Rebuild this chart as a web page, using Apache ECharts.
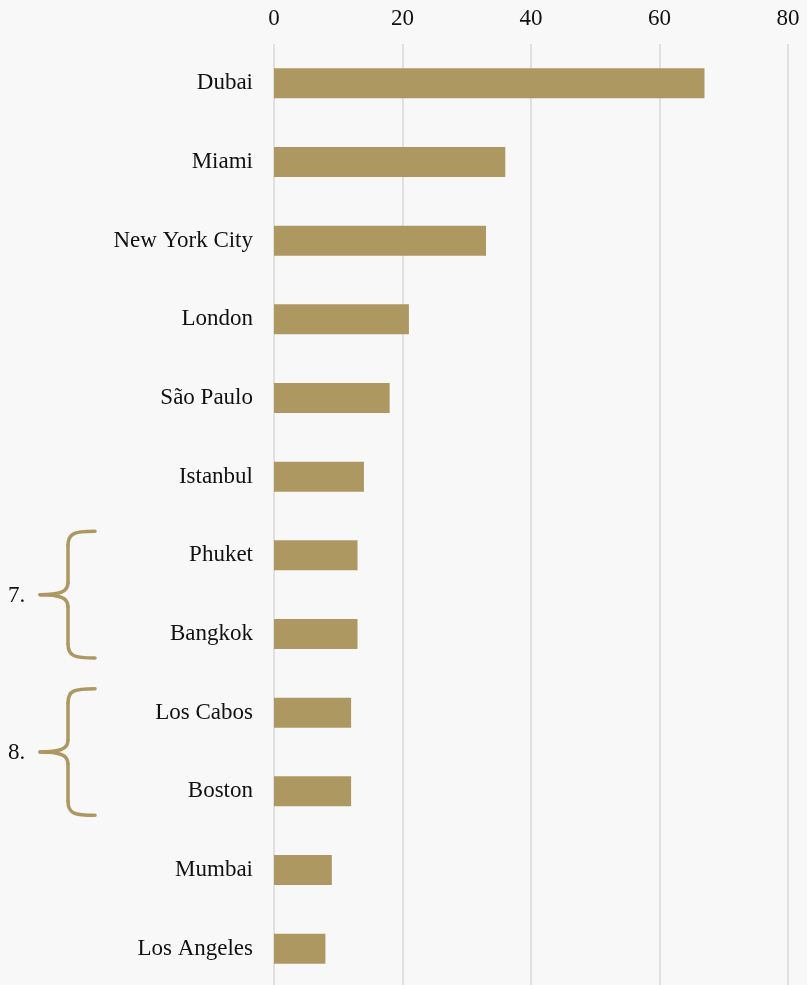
<!DOCTYPE html>
<html>
<head>
<meta charset="utf-8">
<script src="https://cdn.jsdelivr.net/npm/echarts@6/dist/echarts.min.js"></script>
<style>
  html, body { margin: 0; padding: 0; background: #f8f8f8; }
  #chart { width: 807px; height: 985px; }
</style>
</head>
<body>
<div id="chart"></div>
<script>
// Cities ranked by count, top to bottom
const cities = ['Dubai', 'Miami', 'New York City', 'London', 'São Paulo', 'Istanbul',
                'Phuket', 'Bangkok', 'Los Cabos', 'Boston', 'Mumbai', 'Los Angeles'];
const counts = [67, 36, 33, 21, 18, 14, 13, 13, 12, 12, 9, 8];
const xTicks = [0, 20, 40, 60, 80];
// Tied ranks marked with a brace on the left
const tieRanks = ['7.', '8.'];
const tieFirst = ['Phuket', 'Los Cabos'];
const tieLast = ['Bangkok', 'Boston'];

const GOLD = '#ae9862';
const FONT = '"Liberation Serif", "DejaVu Serif", serif';

const chart = echarts.init(document.getElementById('chart'), null, { renderer: 'canvas' });

chart.setOption({
  backgroundColor: '#f8f8f8',
  animation: false,
  grid: { left: 274, right: 19, top: 44, height: 944, containLabel: false, outerBoundsMode: 'none' },
  xAxis: {
    type: 'value',
    position: 'top',
    min: xTicks[0],
    max: xTicks[xTicks.length - 1],
    interval: xTicks[1] - xTicks[0],
    axisLine: { show: false },
    axisTick: { show: false },
    axisLabel: { margin: 14, fontFamily: FONT, fontSize: 23, color: '#111' },
    splitLine: { show: true, lineStyle: { color: '#d9d9d9', width: 1.5 } }
  },
  yAxis: {
    type: 'category',
    inverse: true,
    data: cities,
    axisLine: { show: false },
    axisTick: { show: false },
    axisLabel: { margin: 21, fontFamily: FONT, fontSize: 23, color: '#111', padding: [4, 0, 0, 0] }
  },
  series: [{
    type: 'bar',
    data: counts,
    barWidth: 30,
    itemStyle: { color: GOLD }
  }]
});

// Braces grouping tied ranks, placed from the category axis positions
function braceParts(top, mid, bot) {
  const tipX = 40, spineX = 68, endX = 95;
  const style = { fill: null, stroke: GOLD, lineWidth: 3.5, lineCap: 'round' };
  const curve = (x1, y1, c1x, c1y, c2x, c2y, x2, y2) => ({
    type: 'bezierCurve',
    shape: { x1: x1, y1: y1, cpx1: c1x, cpy1: c1y, cpx2: c2x, cpy2: c2y, x2: x2, y2: y2 },
    style: style
  });
  const line = (x1, y1, x2, y2) => ({
    type: 'line',
    shape: { x1: x1, y1: y1, x2: x2, y2: y2 },
    style: style
  });
  return [
    curve(endX, top, spineX + 6, top, spineX, top + 2, spineX, top + 14),
    line(spineX, top + 14, spineX, mid - 12),
    curve(spineX, mid - 12, spineX, mid - 3, spineX - 8, mid, tipX, mid),
    curve(tipX, mid, spineX - 8, mid, spineX, mid + 3, spineX, mid + 12),
    line(spineX, mid + 12, spineX, bot - 14),
    curve(spineX, bot - 14, spineX, bot - 2, spineX + 6, bot, endX, bot)
  ];
}

const graphics = [];
tieRanks.forEach(function (rank, i) {
  const y1 = chart.convertToPixel({ yAxisIndex: 0 }, tieFirst[i]);
  const y2 = chart.convertToPixel({ yAxisIndex: 0 }, tieLast[i]);
  const mid = (y1 + y2) / 2;
  const half = (y2 - y1) / 2 + 24;
  braceParts(mid - half, mid, mid + half).forEach(function (g) { graphics.push(g); });
  graphics.push({
    type: 'text',
    x: 8,
    y: mid + 1,
    style: { text: rank, fontFamily: FONT, fontSize: 23, fill: '#111', verticalAlign: 'middle', align: 'left' }
  });
});

chart.setOption({ graphic: graphics });
</script>
</body>
</html>
